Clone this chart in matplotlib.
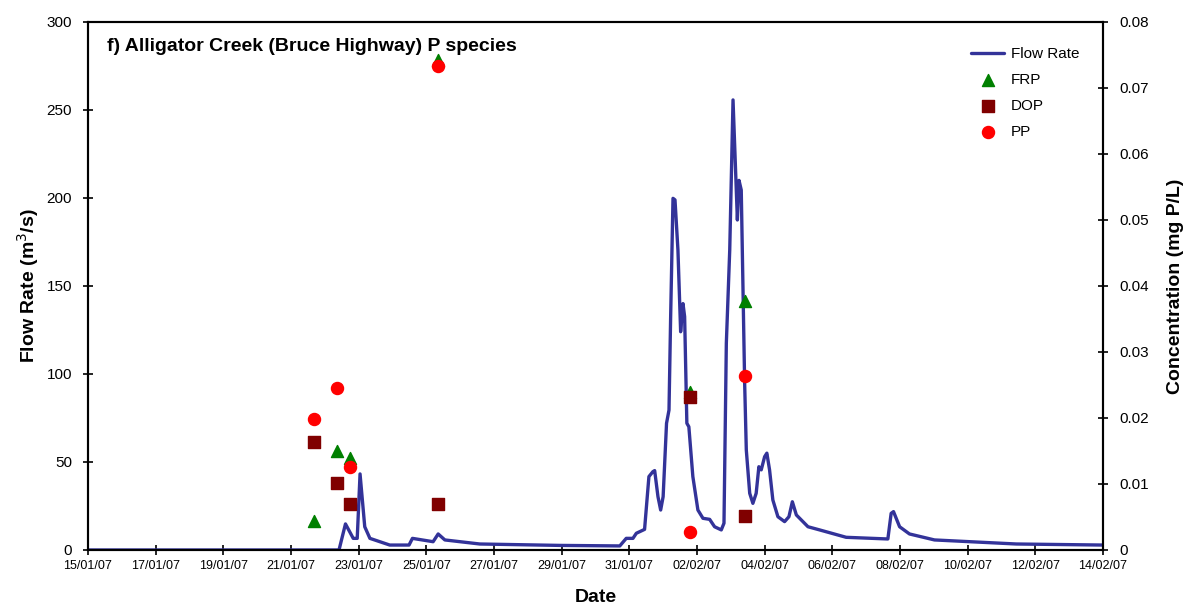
import matplotlib
matplotlib.use('Agg')
import matplotlib.pyplot as plt
import matplotlib.dates as mdates
from matplotlib.ticker import FuncFormatter
import pandas as pd

plt.rcParams['font.family'] = ['Liberation Sans', 'DejaVu Sans']

# flow record, Alligator Creek at Bruce Highway
flow_time = ['2007-01-15 00:00', '2007-01-22 10:05', '2007-01-22 14:40', '2007-01-22 20:10',
             '2007-01-22 23:00', '2007-01-23 01:00', '2007-01-23 04:20', '2007-01-23 08:00',
             '2007-01-23 22:05', '2007-01-24 11:45', '2007-01-24 14:10', '2007-01-25 04:50',
             '2007-01-25 08:25', '2007-01-25 13:10', '2007-01-26 13:55', '2007-01-28 22:35',
             '2007-01-30 17:15', '2007-01-30 21:50', '2007-01-31 02:35', '2007-01-31 05:00',
             '2007-01-31 10:50', '2007-01-31 13:55', '2007-01-31 16:45', '2007-01-31 18:00',
             '2007-01-31 20:20', '2007-01-31 22:15', '2007-02-01 00:00', '2007-02-01 02:25',
             '2007-02-01 04:10', '2007-02-01 05:20', '2007-02-01 07:00', '2007-02-01 08:25',
             '2007-02-01 10:30', '2007-02-01 12:25', '2007-02-01 14:05', '2007-02-01 15:15',
             '2007-02-01 16:50', '2007-02-01 18:15', '2007-02-01 21:05', '2007-02-02 00:40',
             '2007-02-02 04:15', '2007-02-02 09:00', '2007-02-02 12:30', '2007-02-02 17:15',
             '2007-02-02 19:10', '2007-02-02 20:50', '2007-02-02 23:15', '2007-02-03 01:35',
             '2007-02-03 04:40', '2007-02-03 05:50', '2007-02-03 07:25', '2007-02-03 08:35',
             '2007-02-03 09:50', '2007-02-03 11:00', '2007-02-03 13:25', '2007-02-03 15:40',
             '2007-02-03 18:00', '2007-02-03 19:55', '2007-02-03 21:35', '2007-02-04 00:00',
             '2007-02-04 01:35', '2007-02-04 03:30', '2007-02-04 05:50', '2007-02-04 09:25',
             '2007-02-04 14:10', '2007-02-04 17:15', '2007-02-04 19:40', '2007-02-04 22:30',
             '2007-02-05 06:45', '2007-02-05 15:00', '2007-02-06 09:50', '2007-02-07 15:25',
             '2007-02-07 17:45', '2007-02-07 19:25', '2007-02-07 23:45', '2007-02-08 06:45',
             '2007-02-09 00:30', '2007-02-11 10:30', '2007-02-14 00:00']
flow_rate = [0, 0, 14.8, 6.6,
             6.6, 43.2, 13.2, 6.6,
             2.8, 2.8, 6.6, 4.7,
             9.1, 5.7, 3.4, 2.6,
             2.3, 6.6, 6.6, 9.5,
             11.7, 41.7, 44.5, 45.1,
             30.3, 22.7, 30.3, 72,
             79.5, 132.6, 199.8, 198.9,
             170.5, 124, 140, 132.6,
             72, 70, 41.7, 22.7,
             18, 17.4, 13.2, 11.4,
             15.2, 117.4, 170.5, 255.7,
             187.5, 210, 204.5, 151.5,
             94.7, 56.8, 32.2, 26.5,
             32.2, 47.3, 45.5, 53,
             55, 45.5, 28.4, 18.9,
             16.1, 18.9, 27.4, 19.9,
             13.2, 11.4, 7.2, 6.25,
             20.8, 21.8, 13.2, 9.1,
             5.7, 3.4, 2.8]

# grab samples (mg P/L)
sample_time = ['2007-01-21 16:20', '2007-01-22 08:35', '2007-01-22 17:45',
               '2007-01-25 08:10', '2007-02-01 18:45', '2007-02-03 09:50']
frp = [0.0044, 0.0150, 0.0139, 0.0742, 0.0239, 0.0377]
dop = [0.0164, 0.0102, 0.0070, 0.0070, 0.0232, 0.0052]
pp = [0.0198, 0.0245, 0.0126, 0.0733, 0.0027, 0.0264]

flow_time = pd.to_datetime(flow_time)
sample_time = pd.to_datetime(sample_time)
x_ticks = pd.date_range('2007-01-15', '2007-02-14', freq='2D')

fig = plt.figure(figsize=(11.92, 6.10), dpi=100)
ax1 = fig.add_axes([0.0738, 0.0984, 0.8515, 0.8656])
ax2 = ax1.twinx()

l1, = ax1.plot(flow_time, flow_rate, color='#333399', lw=2.4, label='Flow Rate', zorder=2,
               solid_joinstyle='round', solid_capstyle='round')
s1 = ax2.scatter(sample_time, frp, marker='^', s=75, color='#008000', label='FRP', zorder=3)
s2 = ax2.scatter(sample_time, dop, marker='s', s=65, color='#800000', label='DOP', zorder=3)
s3 = ax2.scatter(sample_time, pp, marker='o', s=75, color='#FF0000', label='PP', zorder=4)

ax1.set_xlim(x_ticks[0], x_ticks[-1])
ax1.set_xticks(x_ticks)
ax1.xaxis.set_major_formatter(mdates.DateFormatter('%d/%m/%y'))
ax1.set_ylim(0, 300)
ax1.set_yticks(range(0, 301, 50))
ax2.set_ylim(0, 0.08)
ax2.set_yticks([i * 0.01 for i in range(9)])
ax2.yaxis.set_major_formatter(FuncFormatter(lambda v, p: '0' if v == 0 else '%.2f' % v))

for ax in (ax1, ax2):
    for sp in ax.spines.values():
        sp.set_linewidth(1.5)
    ax.tick_params(direction='inout', length=7, width=1.2)
ax1.tick_params(axis='x', labelsize=9, pad=4)
ax1.tick_params(axis='y', labelsize=11, pad=8)
ax2.tick_params(axis='y', labelsize=11, pad=8)

ax1.set_xlabel('Date', fontsize=14, fontweight='bold', labelpad=12)
ax1.set_ylabel('Flow Rate (m$^3$/s)', fontsize=14, fontweight='bold', labelpad=4)
ax2.set_ylabel('Concentration (mg P/L)', fontsize=14, fontweight='bold', labelpad=13)

ax1.text(0.019, 0.97, 'f) Alligator Creek (Bruce Highway) P species', transform=ax1.transAxes,
         fontsize=14, fontweight='bold', va='top', ha='left')

ax1.legend([l1, s1, s2, s3], ['Flow Rate', 'FRP', 'DOP', 'PP'], loc='upper right',
           bbox_to_anchor=(0.99, 0.978), frameon=False, fontsize=11, handlelength=2.2,
           handletextpad=0.4, labelspacing=0.78, scatterpoints=1)

fig.savefig('out.png', dpi=100)
